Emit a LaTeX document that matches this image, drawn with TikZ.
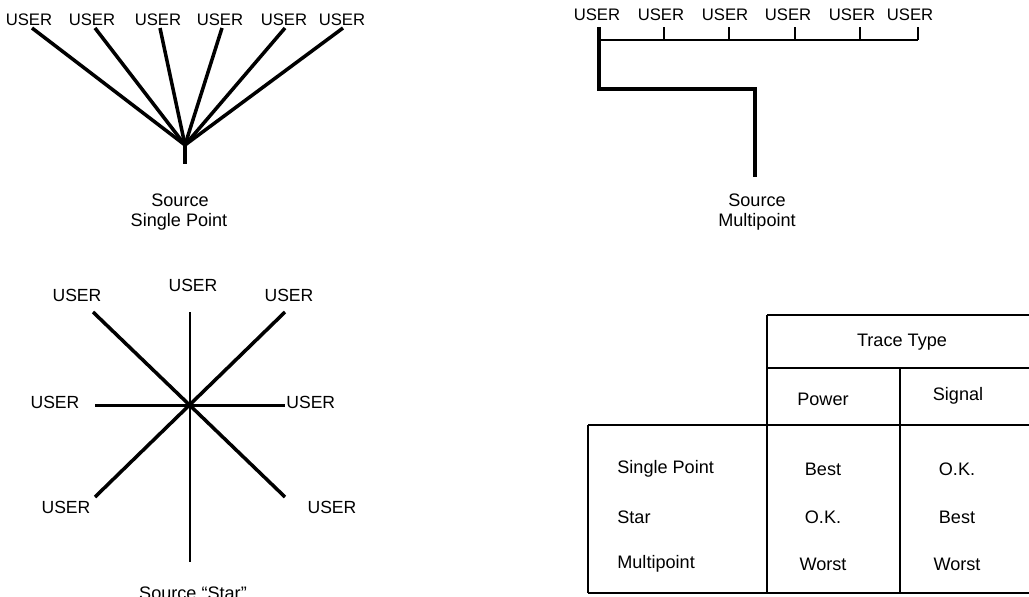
\documentclass[tikz,border=0pt]{standalone}
\usepackage{fontspec}
\setmainfont{Liberation Sans}
\begin{document}
\begin{tikzpicture}[x=0.02cm,y=-0.02cm,
  wire/.style={line width=2pt,line cap=butt},
  thin wire/.style={line width=1.7pt},
  tline/.style={line width=1.4pt},
  ulab/.style={inner sep=0pt,font=\fontsize{9.5}{11}\selectfont},
  slab/.style={inner sep=0pt,font=\fontsize{10}{12}\selectfont},
  txt/.style={inner sep=0pt,font=\fontsize{10.3}{12}\selectfont,align=center},
  ltxt/.style={inner sep=0pt,anchor=west,font=\fontsize{10.3}{12}\selectfont}]
\clip (0,0) rectangle (1029,596);
\useasboundingbox (0,0) rectangle (1029,596);
% ---------- Single point ----------
\node[ulab] (a1) at (29,20) {USER};
\node[ulab] (a2) at (92,20) {USER};
\node[ulab] (a3) at (158,20) {USER};
\node[ulab] (a4) at (220,20) {USER};
\node[ulab] (a5) at (284,20) {USER};
\node[ulab] (a6) at (342,20) {USER};
\coordinate (p1) at (32,28);
\coordinate (p2) at (95,28);
\coordinate (p3) at (160,28);
\coordinate (p4) at (222,28);
\coordinate (p5) at (285,28);
\coordinate (p6) at (343,28);
\coordinate (src1) at (185,145);
\coordinate (src1b) at (185,164);
\foreach \i in {1,...,6} \draw[wire] (p\i) -- (src1);
\draw[wire] (src1) -- (src1b);
\node[txt] (s1a) at (180,200) {Source};
\node[txt] (s1b) at (179,222) {Single Point};
% ---------- Multipoint ----------
\node[ulab] (b1) at (597,15) {USER};
\node[ulab] (b2) at (661,15) {USER};
\node[ulab] (b3) at (725,15) {USER};
\node[ulab] (b4) at (788,15) {USER};
\node[ulab] (b5) at (852,15) {USER};
\node[ulab] (b6) at (910,15) {USER};
\coordinate (q1) at (599,27);
\coordinate (q2) at (664,27);
\coordinate (q3) at (729,27);
\coordinate (q4) at (795,27);
\coordinate (q5) at (860,27);
\coordinate (q6) at (918,27);
\coordinate (bus1) at (599,40);
\coordinate (bus6) at (918,40);
\draw[thin wire] (bus1) -- (bus6);
\foreach \i in {2,...,6} \draw[thin wire] (q\i) -- (q\i |- bus1);
\coordinate (m1) at (599,89);
\coordinate (m2) at (755,89);
\coordinate (src2) at (755,177);
\draw[wire,line join=miter] (q1) -- (m1) -- (m2) -- (src2);
\node[txt] (s2a) at (757,200) {Source};
\node[txt] (s2b) at (757,222) {Multipoint};
% ---------- Star ----------
\coordinate (c) at (190,405);
\coordinate (n) at (190,312);
\coordinate (s) at (190,562);
\coordinate (w) at (95,405);
\coordinate (e) at (285,405);
\coordinate (nw) at (93,312);
\coordinate (se) at (285,497);
\coordinate (ne) at (285,312);
\coordinate (sw) at (95,497);
\draw[thin wire] (n) -- (s);
\draw[thin wire] (w) -- (e);
\draw[wire] (nw) -- (se);
\draw[wire] (ne) -- (sw);
\node[slab] (u1) at (77,295) {USER};
\node[slab] (u2) at (193,285) {USER};
\node[slab] (u3) at (289,295) {USER};
\node[slab] (u4) at (55,402) {USER};
\node[slab,anchor=west] (u5) at (286,402) {USER};
\node[slab] (u6) at (66,507) {USER};
\node[slab] (u7) at (332,507) {USER};
\node[txt] (s3) at (193,593) {Source “Star”};
% ---------- Table ----------
\coordinate (t1) at (767,315);
\coordinate (t2) at (1045,315);
\coordinate (h1) at (767,368);
\coordinate (h2) at (1045,368);
\coordinate (r0) at (588,425);
\coordinate (r1) at (1045,425);
\coordinate (b0) at (588,593);
\coordinate (bb) at (1045,593);
\coordinate (v1) at (900,368);
\coordinate (v2) at (900,593);
\draw[tline] (t1) -- (t2);
\draw[tline] (h1) -- (h2);
\draw[tline] (r0) -- (r1);
\draw[tline] (b0) -- (bb);
\draw[tline] (r0) -- (b0);
\draw[tline] (t1) -- (767,593);
\draw[tline] (v1) -- (v2);
\node[txt] (tt) at (902,342) {Trace Type};
\node[txt] (tp) at (823,399) {Power};
\node[txt] (ts) at (958,396) {Signal};
\node[ltxt] (l1) at (617,469) {Single Point};
\node[ltxt] (l2) at (617,517) {Star};
\node[ltxt] (l3) at (617,564) {Multipoint};
\node[txt] (p11) at (823,469) {Best};
\node[txt] (p12) at (823,517) {O.K.};
\node[txt] (p13) at (823,564) {Worst};
\node[txt] (p21) at (957,469) {O.K.};
\node[txt] (p22) at (957,517) {Best};
\node[txt] (p23) at (957,564) {Worst};
\end{tikzpicture}
\end{document}
